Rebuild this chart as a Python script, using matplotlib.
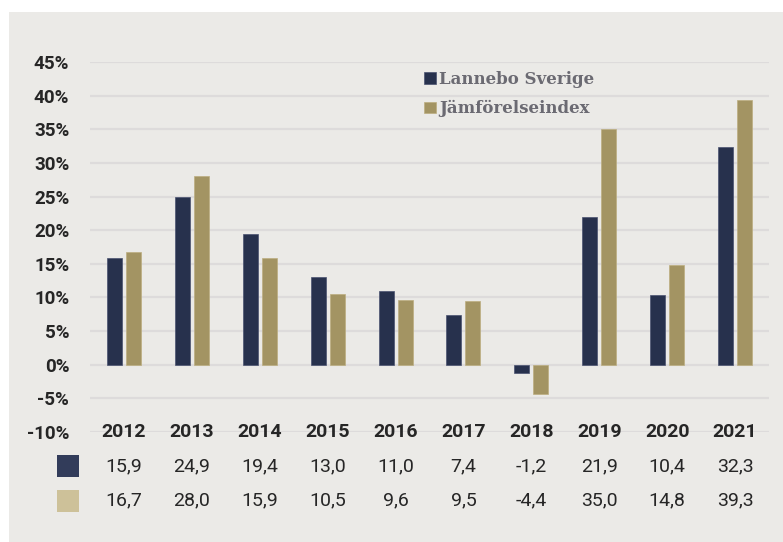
import matplotlib
matplotlib.use("Agg")
import matplotlib.pyplot as plt
from matplotlib.patches import Rectangle
from matplotlib.transforms import blended_transform_factory
import numpy as np

years = ["2012", "2013", "2014", "2015", "2016", "2017", "2018", "2019", "2020", "2021"]
lannebo = [15.9, 24.9, 19.4, 13.0, 11.0, 7.4, -1.2, 21.9, 10.4, 32.3]
index = [16.7, 28.0, 15.9, 10.5, 9.6, 9.5, -4.4, 35.0, 14.8, 39.3]
series_names = ["Lannebo Sverige", "Jämförelseindex"]
yticks = [-10, -5, 0, 5, 10, 15, 20, 25, 30, 35, 40, 45]

BG = "#ebeae7"
NAVY = "#27314d"
KHAKI = "#a39463"
TXT = "#262626"

fig = plt.figure(figsize=(7.83, 5.42), dpi=100)
fig.patch.set_facecolor("white")
fig.patches.append(Rectangle((9 / 783, 0), 1 - 9 / 783, 1 - 12 / 542,
                             transform=fig.transFigure, facecolor=BG,
                             edgecolor="none", zorder=-5))

W, H = 783, 542
ax = fig.add_axes([90 / W, 1 - 432 / H, (769 - 90) / W, (432 - 62) / H])
ax.set_facecolor("none")
ax.set_zorder(1)

x = np.arange(len(years))
bw = 0.22
ax.bar(x - 0.14, lannebo, bw, color=NAVY, edgecolor="#4a5270", linewidth=0.5,
       label=series_names[0], zorder=3)
ax.bar(x + 0.14, index, bw, color=KHAKI, edgecolor="#bcae80", linewidth=0.5,
       label=series_names[1], zorder=3)

ax.set_xlim(-0.5, len(years) - 0.5)
ax.set_ylim(-10, 45)
ax.set_yticks(yticks)
ax.set_yticklabels([f"{v}%" for v in yticks], fontfamily="Roboto",
                   fontweight="bold", fontsize=13.5, color=TXT)
ax.tick_params(axis="y", length=0, pad=15)
ax.set_xticks([])
ax.grid(axis="y", color="#dddbdb", linewidth=1.6, zorder=0)
for s in ax.spines.values():
    s.set_visible(False)

leg = ax.legend(loc="upper left", bbox_to_anchor=(0.482, 0.995), frameon=False,
                handlelength=0.7, handleheight=0.7, handletextpad=0.2,
                labelspacing=0.75, borderaxespad=0,
                prop={"family": "DejaVu Serif", "weight": "bold", "size": 12})
for t in leg.get_texts():
    t.set_color("#6b6a72")

# table below the chart
tr = blended_transform_factory(ax.transData, fig.transFigure)
for i, yr in enumerate(years):
    ax.text(i, 1 - 432 / H, yr, transform=tr, ha="center", va="center",
            fontfamily="Roboto", fontweight="bold", fontsize=14, color=TXT,
            clip_on=False)
    ax.text(i, 1 - 466 / H, f"{lannebo[i]:.1f}".replace(".", ","), transform=tr,
            ha="center", va="center", fontfamily="Roboto", fontsize=14, color=TXT,
            clip_on=False)
    ax.text(i, 1 - 500 / H, f"{index[i]:.1f}".replace(".", ","), transform=tr,
            ha="center", va="center", fontfamily="Roboto", fontsize=14, color=TXT,
            clip_on=False)

fig.patches.append(Rectangle((57 / W, 1 - 477 / H), 22 / W, 22 / H,
                             transform=fig.transFigure, facecolor="#323c5a",
                             edgecolor="none", zorder=2))
fig.patches.append(Rectangle((57 / W, 1 - 512 / H), 22 / W, 22 / H,
                             transform=fig.transFigure, facecolor="#cdc199",
                             edgecolor="none", zorder=2))

fig.savefig("out.png", dpi=100, facecolor=fig.get_facecolor())
